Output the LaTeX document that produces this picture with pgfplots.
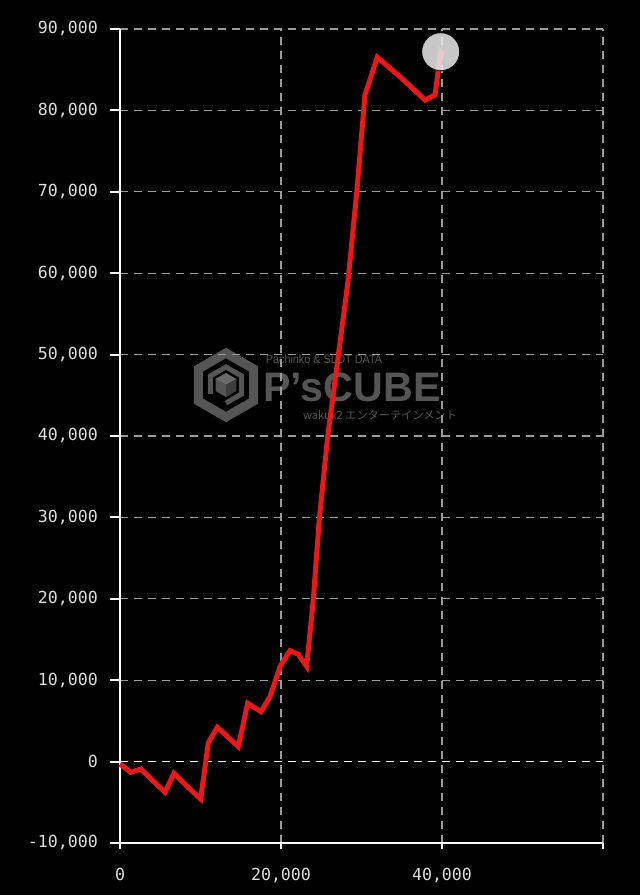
\documentclass[border=0pt]{standalone}
\usepackage{fontspec}
\setmainfont{Liberation Sans}
\setmonofont{DejaVu Sans Mono}
\newfontfamily\jpfont{Noto Sans CJK JP}
\usepackage{pgfplots}
\pgfplotsset{compat=1.18}
\definecolor{lineRed}{HTML}{E8191B}
\definecolor{gridGray}{HTML}{9A9A9A}
\definecolor{labelGray}{HTML}{DDDDDD}
\definecolor{markGray}{HTML}{EAEAEA}
\definecolor{wmGray}{HTML}{555555}
\definecolor{wmDark}{HTML}{3E3E3E}
\definecolor{wmLight}{HTML}{6A6A6A}

\begin{document}
\begin{tikzpicture}
% page: 640x895 px at 0.5pt per px
\fill[black] (0,0) rectangle (320pt,447.5pt);

% watermark (behind the plot)
\begin{scope}[shift={(113pt,255pt)}]
  \draw[wmGray, line width=4.5pt, line join=miter]
    (90:16pt) -- (150:16pt) -- (210:16pt) -- (270:16pt) -- (330:16pt) -- (30:16pt) -- cycle;
  \draw[wmGray, line width=2.5pt]
    (210:9pt) -- (150:9pt) -- (90:9pt) -- (30:9pt) -- (330:9pt) -- (270:9pt);
  \fill[wmLight] (0,0) -- (150:6pt) -- (90:6pt) -- (30:6pt) -- cycle;
  \fill[wmGray] (0,0) -- (150:6pt) -- (210:6pt) -- (270:6pt) -- cycle;
  \fill[wmDark] (0,0) -- (30:6pt) -- (330:6pt) -- (270:6pt) -- cycle;
\end{scope}
\node[wmGray, font=\bfseries\fontsize{20.6}{22}\selectfont, inner sep=0pt]
  at (176pt,253.75pt) {P'sCUBE};
\node[wmGray, font=\fontsize{6}{7}\selectfont, inner sep=0pt, xscale=0.9]
  at (162pt,267.75pt) {Pachinko \& SLOT DATA};
\node[wmGray, font=\jpfont\fontsize{5.6}{7}\selectfont, inner sep=0pt]
  at (190pt,240pt) {wakux2 エンターテインメント};

\begin{axis}[
    at={(60pt,26pt)}, anchor=south west,
    width=241.5pt, height=407pt, scale only axis,
    xmin=0, xmax=60000,
    ymin=-10000, ymax=90000,
    xtick={0,20000,40000,60000},
    xticklabels={0,{20,000},{40,000},},
    ytick={-10000,0,10000,20000,30000,40000,50000,60000,70000,80000,90000},
    scaled ticks=false,
    /pgf/number format/.cd, 1000 sep={,}, assume math mode=true,
    /pgfplots/.cd,
    axis x line*=bottom,
    axis y line*=left,
    axis line style={white, line width=1pt, -},
    tick align=outside,
    major tick length=5pt,
    tick style={white, line width=1pt},
    xtick style={/pgfplots/major tick length=3pt},
    grid=major,
    grid style={gridGray, line width=0.6pt, dash pattern=on 4pt off 3pt},
    ticklabel style={labelGray, font=\ttfamily\fontsize{8.3}{10}\selectfont},
    xticklabel style={yshift=-4pt},
    yticklabel style={xshift=-2.5pt},
    clip=false,
  ]
  % zero line
  \addplot[white, line width=0.8pt, dash pattern=on 4pt off 3pt] coordinates {(0,0)(60000,0)};

  \addplot[lineRed, line width=2.5pt] coordinates {
    (0,-300)(1330,-1310)(2570,-910)(5590,-3770)(6710,-1440)(8280,-3000)
    (10020,-4590)(10970,2320)(12090,4210)(14700,1830)(15860,7160)
    (17520,6130)(18630,7970)(19880,11660)(21120,13630)(22150,13180)
    (23190,11700)(24010,19850)(24760,29800)(25800,39910)(28300,58800)
    (29400,69820)(30430,81890)(31960,86520)(34780,84140)(37890,81280)
    (39130,81890)(39840,87210)(40200,86900)};

  % end marker
  \addplot[only marks, mark=*, mark size=9.5pt,
    mark options={draw=none, fill=markGray, fill opacity=0.85}]
    coordinates {(39840,87210)};
\end{axis}
\end{tikzpicture}
\end{document}
